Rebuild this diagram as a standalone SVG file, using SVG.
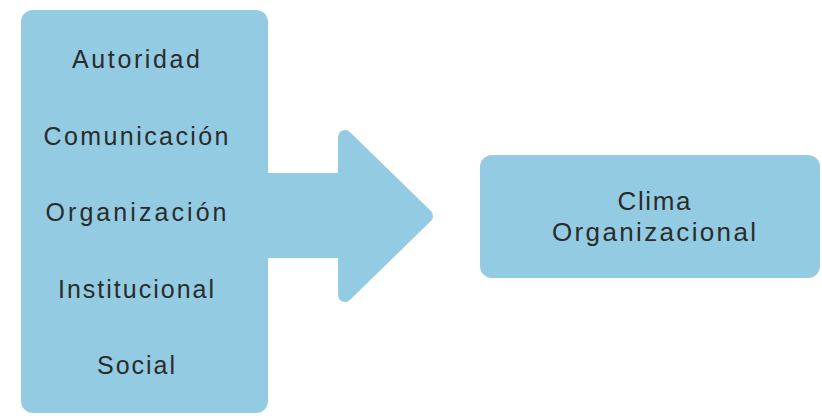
<svg xmlns="http://www.w3.org/2000/svg" width="822" height="418" viewBox="0 0 822 418">
<style>
.box{fill:#93cbe3}
.lbl{font-family:"Liberation Sans","DejaVu Sans",sans-serif;font-size:25px;fill:#2b2b2b;text-anchor:middle;letter-spacing:2px}
.big{font-size:26px}
</style>
<rect width="822" height="418" fill="#ffffff"/>
<g id="connectors">
<path d="M262,180 L345,180 L345,137 L426,216 L345,295 L345,251 L262,251 Z" class="box" stroke="#93cbe3" stroke-width="14" stroke-linejoin="round"/>
</g>
<g id="factores">
<rect class="box" x="21" y="10" width="247" height="403" rx="12"/>
<text class="lbl" x="137" y="68" textLength="130" lengthAdjust="spacing">Autoridad</text>
<text class="lbl" x="137" y="145" textLength="187" lengthAdjust="spacing">Comunicación</text>
<text class="lbl" x="137" y="221" textLength="183" lengthAdjust="spacing">Organización</text>
<text class="lbl" x="137" y="298" textLength="158" lengthAdjust="spacing">Institucional</text>
<text class="lbl" x="137" y="374" textLength="80" lengthAdjust="spacing">Social</text>
</g>
<g id="clima">
<rect class="box" x="480" y="155" width="340" height="123" rx="12"/>
<text class="lbl big" x="655" y="210" textLength="75" lengthAdjust="spacing">Clima</text>
<text class="lbl big" x="655" y="241" textLength="206" lengthAdjust="spacing">Organizacional</text>
</g>
</svg>
